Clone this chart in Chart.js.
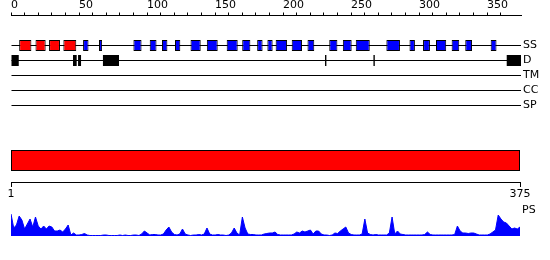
<!DOCTYPE html>
<html lang="en">
<head>
  <meta charset="UTF-8" />
  <title>Protein features</title>
  <style>
    body { margin: 0; background: #fff; }
    #wrap { position: relative; width: 550px; height: 260px; }
    canvas { position: absolute; left: 0; }
  </style>
</head>
<body>
  <div id="wrap">
    <canvas id="tracks" width="550" height="120" style="top:0"></canvas>
    <canvas id="seq" width="550" height="65" style="top:135px"></canvas>
    <canvas id="ps" width="550" height="60" style="top:200px"></canvas>
  </div>

  <script src="https://cdn.jsdelivr.net/npm/chart.js"></script>
  <script>
    Chart.defaults.font.family = 'DejaVu Sans';
    Chart.defaults.font.size = 11;
    Chart.defaults.color = '#000';
    Chart.defaults.animation = false;

    const SEQ_LEN = 375;
    const trackNames = ['SS', 'D', 'TM', 'CC', 'SP'];

    // secondary structure: helices (red) and strands (blue), residue ranges
    const ssHelix = [[6, 15], [18, 25.5], [28, 36], [38.5, 48]];
    const ssStrand = [
      [53, 57], [64.7, 67], [90, 96], [102, 107], [111, 115], [120.6, 124.5],
      [132, 139.5], [144, 152], [158.6, 166.7], [170, 176], [181, 185], [188.5, 192.4],
      [194.6, 203], [206.4, 214], [218, 223], [234, 240], [244, 250.5], [253.5, 263.8],
      [276, 286], [293, 297], [303, 308], [312.5, 320], [324, 329.6], [334, 339], [352.7, 357]
    ];
    // disorder regions and single-residue marks
    const disorder = [[0, 5.7], [45.6, 48.3], [49.3, 51.5], [67.6, 79.4], [364.5, 375]];
    const disorderMarks = [231.4, 267];

    // PS profile, one value every 2 residues starting at residue 1
    const PS_STEP = 2;
    const psValues = [
      22, 8, 11, 20, 16, 7, 12, 17, 9, 19,
      10, 7, 10, 7, 10, 9, 5, 5, 6, 4,
      7, 11, 1, 3, 1, 1, 1.5, 2.5, 1, 0.5,
      0.5, 0.5, 0.5, 0.5, 1, 1, 0.5, 0.5, 0.5, 0.5,
      1, 0.5, 1, 0.5, 0.5, 1, 1, 0.5, 2, 5,
      3, 1, 1.5, 1.5, 1, 1, 2, 6, 9, 4,
      1.5, 1, 2, 7, 2, 1, 0.5, 1, 1, 1.5,
      1, 2, 8, 2, 1, 1, 1.5, 1, 1, 0.5,
      1, 3, 8, 3, 1, 19, 8, 2, 1.5, 1.5,
      1, 1, 1, 2, 2.5, 3, 3, 4, 1.5, 1,
      1, 1, 1, 1, 2, 4, 3, 5, 4, 5,
      6, 2, 5, 5, 2, 1, 1, 0.5, 1, 3,
      2.5, 5, 7, 9, 3, 1.5, 1, 1, 1, 2,
      17, 3, 1.5, 1, 1.5, 1, 1, 1, 1, 3,
      19, 2, 5, 2, 1.5, 1, 1, 1, 1, 1,
      1, 1, 1.5, 4, 1.5, 1, 1, 1, 1, 1,
      1, 1, 1, 1.5, 10, 5, 3, 3, 2.5, 3,
      3, 2, 1, 1, 1, 1, 2, 4, 6, 21,
      17, 14, 13, 10, 7, 8, 7, 9
    ];

    const seg = (ranges, track) => ranges.map(r => ({x: r, y: track}));
    const barDefaults = {
      type: 'bar', grouped: false, clip: false, borderSkipped: false, inflateAmount: 0
    };

    // ---- feature tracks with residue axis on top ----
    new Chart(document.getElementById('tracks'), {
      type: 'bar',
      data: {
        labels: ['_a', '_b'].concat(trackNames),
        datasets: [
          {...barDefaults, data: seg(ssHelix, 'SS'), backgroundColor: '#ff0000',
            borderColor: '#000', borderWidth: 1, barThickness: 11},
          {...barDefaults, data: seg(ssStrand, 'SS'), backgroundColor: '#0000ff',
            borderColor: '#000', borderWidth: 1, barThickness: 11},
          {...barDefaults, data: seg(disorder, 'D'), backgroundColor: '#000', barThickness: 11},
          {...barDefaults, data: seg(disorderMarks.map(m => [m - 0.5, m + 0.5]), 'D'),
            backgroundColor: '#000', barThickness: 11},
          {...barDefaults, data: trackNames.map(t => ({x: [0, SEQ_LEN], y: t})),
            backgroundColor: '#000', barThickness: 1}
        ]
      },
      options: {
        indexAxis: 'y',
        responsive: false,
        layout: {padding: {left: 11, right: 0, top: 0, bottom: 14.5}},
        plugins: {legend: {display: false}, tooltip: {enabled: false}},
        scales: {
          x: {
            type: 'linear', position: 'top', min: 0, max: SEQ_LEN,
            afterFit: s => { s.height = 15.5; },
            afterBuildTicks: s => { s.ticks = s.ticks.filter(t => t.value % 10 === 0); },
            ticks: {
              stepSize: 10, autoSkip: false, maxRotation: 0, align: 'start', padding: 1,
              callback: v => (v % 50 === 0 ? String(v) : '')
            },
            grid: {drawOnChartArea: false, tickLength: 3, color: '#000'},
            border: {color: '#000'}
          },
          y: {
            type: 'category', position: 'right', offset: false,
            afterFit: s => { s.width = 29; },
            ticks: {
              padding: 2, autoSkip: false,
              callback: function (v) {
                const l = this.getLabelForValue(v);
                return l.startsWith('_') ? '' : l;
              }
            },
            grid: {display: false, drawTicks: false},
            border: {display: false}
          }
        }
      }
    });

    // ---- full-length sequence bar with 1..375 axis ----
    new Chart(document.getElementById('seq'), {
      type: 'bar',
      data: {
        labels: ['seq'],
        datasets: [
          {...barDefaults, data: [{x: [1, SEQ_LEN], y: 'seq'}], backgroundColor: '#ff0000',
            borderColor: '#000', borderWidth: 1, barThickness: 21}
        ]
      },
      options: {
        indexAxis: 'y',
        responsive: false,
        layout: {padding: {left: 11, right: 30, top: 4, bottom: 0}},
        plugins: {legend: {display: false}, tooltip: {enabled: false}},
        scales: {
          x: {
            type: 'linear', position: 'bottom', min: 1, max: SEQ_LEN,
            afterFit: s => { s.height = 18; },
            afterBuildTicks: s => { s.ticks = [{value: 1}, {value: SEQ_LEN}]; },
            ticks: {autoSkip: false, maxRotation: 0, padding: 1},
            grid: {drawOnChartArea: false, tickLength: 5, color: '#000'},
            border: {color: '#000'}
          },
          y: {display: false}
        }
      }
    });

    // ---- PS profile ----
    new Chart(document.getElementById('ps'), {
      type: 'line',
      data: {
        datasets: [{
          data: psValues.map((v, i) => ({x: 1 + i * PS_STEP, y: v})),
          borderColor: '#0000ff', backgroundColor: '#0000ff', borderWidth: 1,
          fill: 'origin', pointRadius: 0, tension: 0
        }]
      },
      options: {
        responsive: false,
        layout: {padding: {left: 11, right: 0, top: 9, bottom: 24}},
        plugins: {legend: {display: false}, tooltip: {enabled: false}},
        scales: {
          x: {type: 'linear', min: 1, max: SEQ_LEN, display: false},
          y: {
            position: 'right', min: 0, max: 27,
            afterFit: s => { s.width = 30; },
            afterBuildTicks: s => { s.ticks = [{value: 25.5}]; },
            ticks: {padding: 2, callback: () => 'PS'},
            grid: {display: false, drawTicks: false},
            border: {display: false}
          }
        }
      }
    });
  </script>
</body>
</html>
